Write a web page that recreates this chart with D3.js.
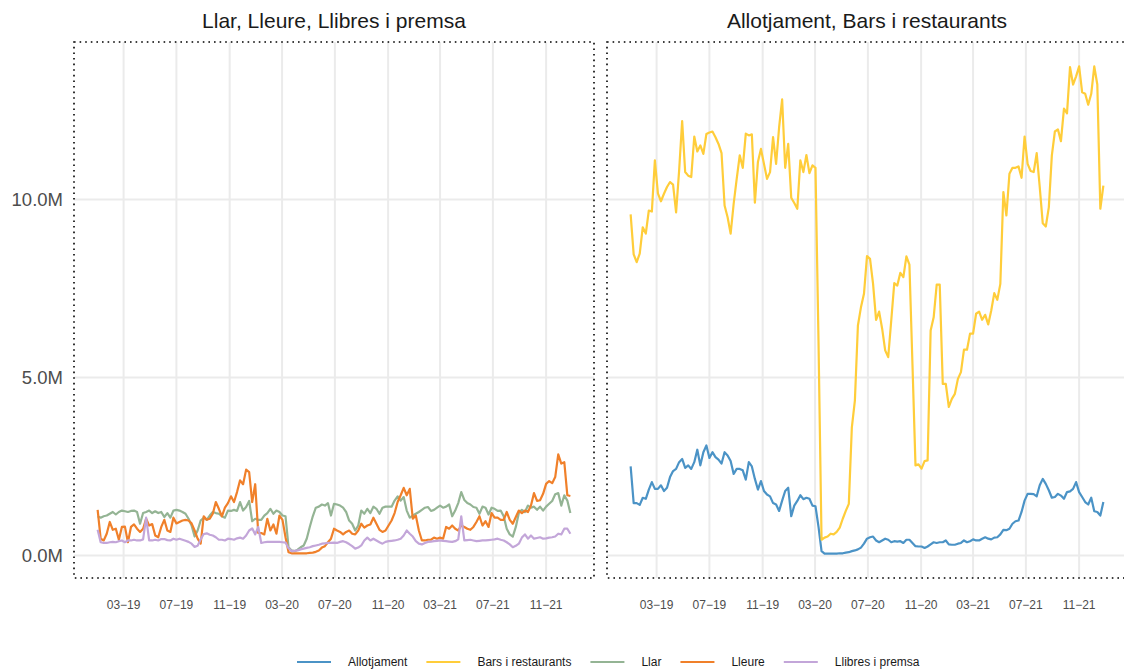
<!DOCTYPE html>
<html><head><meta charset="utf-8">
<script src="https://cdn.jsdelivr.net/npm/d3@7"></script>
<style>
body{margin:0;background:#fff}
svg{display:block}
text{font-family:"Liberation Sans",Arial,Helvetica,sans-serif}
</style>
</head><body>
<svg id="chart" width="1124" height="670"></svg>
<script>
// ---------- DATA ----------
const startDate = "2018-12-31";   // first weekly observation
const categories = ["Allotjament","Bars i restaurants","Llar","Lleure","Llibres i premsa"];
const seriesColors = ["#4b93c6","#ffcd3a","#94b494","#f0802a","#c3a6d9"];
const panelTitles = ["Llar, Lleure, Llibres i premsa","Allotjament, Bars i restaurants"];
const panelSeries = [["Llar","Lleure","Llibres i premsa"],["Allotjament","Bars i restaurants"]];
const yTicks = [0, 5, 10];                 // millions
const yTickLabels = ["0.0M","5.0M","10.0M"];
const xTicks = ["2019-03-01","2019-07-01","2019-11-01","2020-03-01","2020-07-01","2020-11-01","2021-03-01","2021-07-01","2021-11-01"];
const xTickLabels = ["03\u221219","07\u221219","11\u221219","03\u221220","07\u221220","11\u221220","03\u221221","07\u221221","11\u221221"];

// weekly values, millions
const allotjament = [
2.5,1.47,1.47,1.42,1.62,1.59,1.85,2.06,1.87,1.87,
1.97,1.81,1.9,2.2,2.37,2.43,2.62,2.71,2.46,2.53,
2.43,2.62,2.97,2.53,2.9,3.09,2.74,2.9,2.76,2.69,
2.58,2.9,2.81,2.65,2.29,2.43,2.43,2.39,2.13,2.62,
2.5,2.15,1.85,2.09,1.81,1.71,1.66,1.47,1.43,1.25,
1.54,1.81,1.9,
1.1,1.4,1.53,1.69,1.58,1.62,1.59,1.4,1.38,0.8,
0.12,0.05,0.05,0.05,0.05,0.05,0.06,0.06,0.08,0.09,
0.12,0.14,0.17,0.22,0.33,0.47,0.51,0.53,0.42,0.37,
0.42,0.47,0.44,0.37,0.4,0.39,0.4,0.35,0.44,0.44,
0.35,0.26,0.25,0.25,0.21,0.25,0.31,0.37,0.35,0.37,
0.37,0.42,0.31,
0.3,0.3,0.33,0.35,0.42,0.37,0.4,0.45,0.42,0.42,
0.47,0.51,0.47,0.45,0.5,0.51,0.59,0.72,0.71,0.75,
0.89,0.96,0.98,1.22,1.54,1.73,1.73,1.72,1.66,1.97,
2.15,2.01,1.83,1.62,1.64,1.73,1.68,1.59,1.78,1.8,
1.87,2.06,1.78,1.64,1.5,1.43,1.62,1.24,1.22,1.12,
1.5];
const bars = [
9.58,8.46,8.24,8.48,9.22,9.04,9.69,9.66,11.1,10.17,
9.95,10.16,10.35,10.49,10.42,9.64,10.81,12.2,10.77,10.67,
10.63,11.77,11.35,11.52,11.28,11.84,11.88,11.91,11.75,11.56,
11.3,9.83,9.5,9.04,9.88,10.58,11.24,10.89,11.85,11.8,
11.83,9.91,11.05,11.42,11.0,10.58,10.77,11.75,11.0,12.03,
12.81,10.89,11.56,
10.05,9.9,9.74,11.1,10.77,11.25,10.74,10.96,10.89,6.0,
0.44,0.5,0.53,0.61,0.59,0.66,0.78,1.03,1.25,1.45,
3.6,4.35,6.46,6.97,7.35,8.41,8.33,7.63,6.62,6.85,
6.37,5.76,5.57,6.6,7.65,7.58,7.94,7.82,8.4,8.17,
5.38,2.53,2.56,2.44,2.65,2.67,6.32,6.69,7.61,7.61,
4.82,4.82,4.17,
4.4,4.54,4.96,5.15,5.78,5.78,6.23,6.23,6.79,6.85,
6.62,6.76,6.49,6.88,7.37,7.18,7.63,10.21,9.55,10.72,
10.89,10.89,10.93,10.61,11.77,11.0,10.8,10.77,11.3,10.35,
9.33,9.24,9.78,11.24,11.91,11.97,11.64,12.55,12.42,13.72,
13.23,13.46,13.74,13.01,12.97,12.66,12.97,13.74,13.23,9.74,
10.39];
const llar = [
1.1,1.06,1.1,1.12,1.17,1.22,1.15,1.22,1.26,1.24,
1.22,1.25,1.26,1.22,0.89,1.19,1.22,1.26,1.19,1.24,
1.19,1.22,1.08,1.19,1.06,1.26,1.28,1.26,1.22,1.17,
1.03,0.84,0.53,0.7,0.98,1.06,1.0,1.12,1.22,1.19,
1.17,1.1,1.06,1.26,1.25,1.28,1.25,1.5,1.26,1.36,
1.53,0.96,1.03,1.0,1.0,1.12,1.19,1.31,1.17,1.26,
1.22,1.12,1.1,0.23,0.14,0.12,0.16,0.23,0.28,0.47,
0.8,1.1,1.34,1.37,1.43,1.4,1.47,1.12,1.45,
1.43,1.4,1.34,1.22,0.98,0.89,0.7,0.84,1.26,1.17,
1.31,1.19,1.37,1.31,1.17,1.34,1.37,1.37,1.37,1.54,
1.66,1.54,1.64,1.26,1.06,1.12,1.17,1.22,1.28,1.34,
1.36,1.25,1.28,1.34,1.4,1.34,1.37,1.43,1.1,1.26,
1.47,1.78,1.56,1.47,1.43,1.36,1.34,1.17,1.37,1.34,
1.15,1.34,1.31,1.25,1.26,1.1,0.75,0.59,0.53,0.8,
1.19,1.28,1.22,1.4,1.34,1.37,1.28,1.37,1.26,1.37,
1.45,1.53,1.72,1.75,1.4,1.69,1.54,1.19];
const lleure = [
1.28,0.47,0.42,0.61,0.94,0.72,0.75,0.44,0.8,0.81,
0.37,0.8,0.87,0.75,0.66,0.75,1.03,0.84,0.88,0.56,
0.51,0.8,1.0,0.7,0.66,1.06,0.9,0.94,0.98,1.0,
0.98,0.9,0.7,0.47,0.33,1.1,1.0,1.03,1.17,1.5,
1.31,1.1,1.34,1.47,1.66,1.5,1.78,2.11,2.0,2.41,
2.34,1.5,2.0,0.63,0.63,0.59,1.03,0.7,0.87,0.61,
1.12,1.0,0.51,0.09,0.06,0.06,0.06,0.06,0.06,0.06,
0.07,0.08,0.1,0.14,0.22,0.26,0.37,0.47,0.75,
0.7,0.66,0.59,0.66,0.7,0.61,0.59,0.7,0.89,0.78,
0.84,0.87,1.06,0.89,0.72,0.66,0.7,0.84,0.98,1.19,
1.5,1.69,1.9,1.69,1.87,1.03,1.12,0.7,0.42,0.42,
0.44,0.44,0.5,0.47,0.5,0.47,0.8,0.75,0.84,0.75,
0.7,0.84,0.8,0.75,0.72,0.8,0.94,1.1,0.84,0.96,
0.8,1.19,1.06,1.06,1.0,1.0,1.22,1.0,0.89,1.08,
1.26,1.19,1.26,1.22,1.4,1.75,1.53,1.55,1.73,2.01,
2.09,2.03,2.2,2.84,2.58,2.62,1.69,1.67];
const llibres = [
0.72,0.37,0.35,0.35,0.37,0.38,0.37,0.40,0.42,0.37,
0.42,0.42,0.44,0.42,0.42,0.45,1.06,0.42,0.42,0.44,
0.42,0.46,0.46,0.43,0.42,0.47,0.44,0.47,0.44,0.41,
0.38,0.33,0.24,0.27,0.45,0.6,0.62,0.58,0.56,0.51,
0.44,0.44,0.42,0.47,0.46,0.44,0.48,0.5,0.47,0.56,
0.7,0.76,0.59,0.8,0.35,0.37,0.38,0.38,0.38,0.38,
0.38,0.37,0.36,0.2,0.12,0.13,0.14,0.17,0.19,0.21,
0.23,0.26,0.28,0.3,0.33,0.34,0.35,0.35,0.36,0.35,
0.38,0.4,0.37,0.32,0.26,0.19,0.22,0.28,0.42,0.5,
0.42,0.47,0.42,0.37,0.33,0.38,0.4,0.41,0.42,0.44,
0.47,0.56,0.7,0.61,0.53,0.4,0.33,0.31,0.35,0.38,
0.39,0.4,0.41,0.42,0.41,0.4,0.39,0.38,0.4,0.45,
1.1,0.42,0.43,0.44,0.42,0.4,0.41,0.42,0.42,0.43,
0.44,0.45,0.47,0.44,0.42,0.37,0.31,0.23,0.27,0.33,
0.5,0.59,0.47,0.56,0.47,0.49,0.51,0.47,0.48,0.5,
0.51,0.53,0.61,0.59,0.75,0.75,0.61];

// ---------- BUILD ----------
const seriesValues = {"Allotjament":allotjament,"Bars i restaurants":bars,"Llar":llar,"Lleure":lleure,"Llibres i premsa":llibres};
const parse = d3.utcParse("%Y-%m-%d");
const t0 = parse(startDate);
const dateAt = i => d3.utcDay.offset(t0, 7*i);
const series = categories.map((name,k) => ({
  name, color: seriesColors[k],
  points: seriesValues[name].map((v,i) => ({date: dateAt(i), value: v*1e6}))
}));

const panelTop = 42, panelBottom = 578;
const panels = [{x0:74, x1:594}, {x0:607, x1:1127}];

const svg = d3.select("#chart");

// shared scales with 5% expansion (like ggplot)
const allPts = series.flatMap(s => s.points);
const tExt = d3.extent(allPts, p => p.date);
const tSpan = tExt[1] - tExt[0];
const xDomain = [new Date(+tExt[0] - 0.05*tSpan), new Date(+tExt[1] + 0.05*tSpan)];
const vExt = d3.extent(allPts, p => p.value);
const vSpan = vExt[1] - vExt[0];
const y = d3.scaleLinear().domain([vExt[0]-0.05*vSpan, vExt[1]+0.05*vSpan]).range([panelBottom, panelTop]);

const byName = Object.fromEntries(series.map(s => [s.name, s]));

panels.forEach((p, pi) => {
  const x = d3.scaleUtc().domain(xDomain).range([p.x0, p.x1]);
  const g = svg.append("g");

  // grid
  g.selectAll("line.hg").data(yTicks).join("line")
    .attr("x1", p.x0).attr("x2", p.x1)
    .attr("y1", d => y(d*1e6)).attr("y2", d => y(d*1e6))
    .attr("stroke", "#ebebeb").attr("stroke-width", 2);
  g.selectAll("line.vg").data(xTicks).join("line")
    .attr("x1", d => x(parse(d))).attr("x2", d => x(parse(d)))
    .attr("y1", panelTop).attr("y2", panelBottom)
    .attr("stroke", "#ebebeb").attr("stroke-width", 2);

  // lines
  const line = d3.line().x(d => x(d.date)).y(d => y(d.value));
  panelSeries[pi].forEach(name => {
    const s = byName[name];
    g.append("path").datum(s.points)
      .attr("fill", "none").attr("stroke", s.color)
      .attr("stroke-width", 2.2).attr("stroke-linejoin", "round")
      .attr("d", line);
  });

  // dotted panel border
  g.append("rect")
    .attr("x", p.x0).attr("y", panelTop)
    .attr("width", p.x1 - p.x0).attr("height", panelBottom - panelTop)
    .attr("fill", "none").attr("stroke", "#000")
    .attr("stroke-width", 1.6).attr("stroke-dasharray", "1.6,4");

  // x tick labels
  g.selectAll("text.xt").data(xTicks).join("text")
    .attr("x", (d) => x(parse(d))).attr("y", 609)
    .attr("text-anchor", "middle").attr("font-size", 12).attr("fill", "#4d4d4d")
    .text((d,i) => xTickLabels[i]);

  // title
  g.append("text")
    .attr("x", (p.x0 + p.x1)/2).attr("y", 28)
    .attr("text-anchor", "middle").attr("font-size", 21).attr("fill", "#1a1a1a")
    .text(panelTitles[pi]);

  // y tick labels on first panel only
  if (pi === 0) {
    g.selectAll("text.yt").data(yTicks).join("text")
      .attr("x", 63).attr("y", d => y(d*1e6) + 6.5)
      .attr("text-anchor", "end").attr("font-size", 18.5).attr("fill", "#4d4d4d")
      .text((d,i) => yTickLabels[i]);
  }
});

// legend
const lg = svg.append("g");
let lx = 297;
const ly = 662;
series.forEach(s => {
  lg.append("line").attr("x1", lx).attr("x2", lx + 34).attr("y1", ly).attr("y2", ly)
    .attr("stroke", s.color).attr("stroke-width", 2.2);
  const t = lg.append("text").attr("x", lx + 51).attr("y", ly + 4.3)
    .attr("font-size", 12).attr("fill", "#1a1a1a").text(s.name);
  lx = lx + 51 + t.node().getComputedTextLength() + 19;
});
</script>
</body></html>
